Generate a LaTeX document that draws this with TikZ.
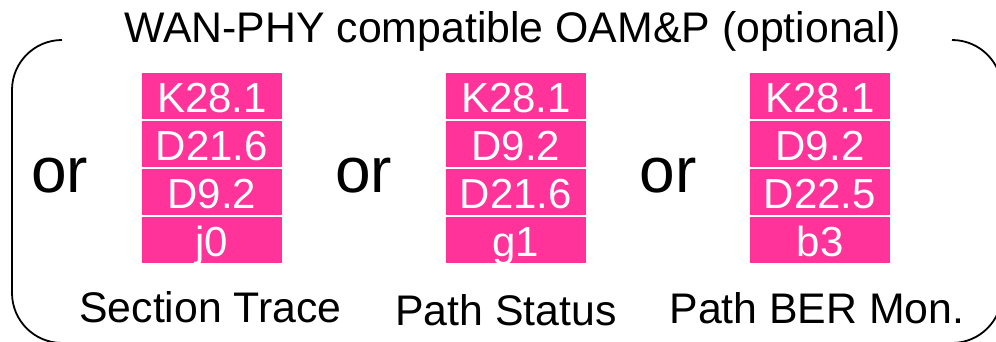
\documentclass[tikz,border=0pt]{standalone}
\usepackage{fontspec}
\setmainfont{Liberation Sans}
\definecolor{oampink}{RGB}{255,51,153}
\begin{document}
\begin{tikzpicture}[x=1pt,y=-1pt,
  cell/.style={draw=white,line width=1.2pt,fill=oampink,text=white,
    minimum width=142pt,minimum height=48pt,inner sep=0pt,
    text height=33pt,text depth=0pt,font=\fontsize{42}{50}\selectfont},
  big/.style={font=\fontsize{42.8}{50}\selectfont,inner sep=0pt,anchor=base},
  ortext/.style={font=\fontsize{64}{72}\selectfont,inner sep=0pt,anchor=base},
  frame/.style={draw=black,line width=1.8pt,rounded corners=50pt}]
\useasboundingbox (0,0) rectangle (996,342);
\clip (0,0) rectangle (996,342);
% frame
\coordinate (fa) at (62,40);
\coordinate (fb) at (12,40);
\coordinate (fc) at (12,343);
\coordinate (fd) at (1002,343);
\coordinate (fe) at (1002,40);
\coordinate (ff) at (952,40);
\draw[frame] (fa) -- (fb) -- (fc) -- (fd) -- (fe) -- (ff);
% title
\node[big] (title) at (512.5,43) {WAN-PHY compatible OAM\&P (optional)};
% or
\node[ortext] (or1) at (59.5,193) {or};
\node[ortext] (or2) at (363.5,192) {or};
\node[ortext] (or3) at (668,193) {or};
% column 1
\node[cell] (a1) at (212,96) {K28.1};
\node[cell] (a2) at (212,144) {D21.6};
\node[cell] (a3) at (212,192) {D9.2};
\node[cell] (a4) at (212,240) {j0};
% column 2
\node[cell] (b1) at (516,96) {K28.1};
\node[cell] (b2) at (516,144) {D9.2};
\node[cell] (b3) at (516,192) {D21.6};
\node[cell] (b4) at (516,240) {g1};
% column 3
\node[cell] (c1) at (820,96) {K28.1};
\node[cell] (c2) at (820,144) {D9.2};
\node[cell] (c3) at (820,192) {D22.5};
\node[cell] (c4) at (820,240) {b3};
% labels
\node[big] (l1) at (210.5,322) {Section Trace};
\node[big] (l2) at (506,325) {Path Status};
\node[big] (l3) at (817,323) {Path BER Mon.};
\end{tikzpicture}
\end{document}
